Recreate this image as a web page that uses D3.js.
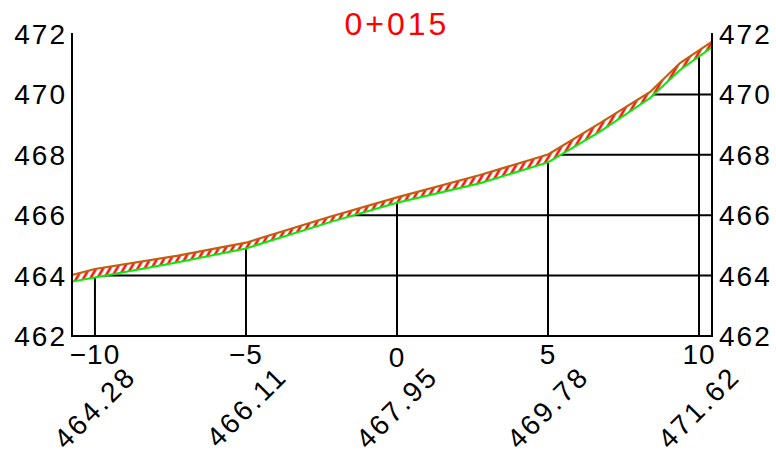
<!DOCTYPE html>
<html>
<head>
<meta charset="utf-8">
<script src="https://cdn.jsdelivr.net/npm/d3@7"></script>
<style>
  html, body { margin: 0; padding: 0; background: #fff; }
  svg { display: block; }
  text { font-family: "Liberation Sans", Arial, sans-serif; }
</style>
</head>
<body>
<svg id="chart" width="776" height="455"></svg>
<script>
// ---- data ----
const title = "0+015";
const offsets = [-10.76, -10, -7.25, -5, -2.22, 0, 2.75, 5, 6.72, 8.38, 9.37, 10.43];
const upperElev = [464.02, 464.22, 464.66, 465.09, 465.95, 466.59, 467.33, 468.01, 469.05, 470.08, 471.04, 471.75];
const lowerElev = [463.80, 463.94, 464.44, 464.90, 465.77, 466.41, 467.06, 467.75, 468.77, 469.88, 470.81, 471.56];
const xTicks = [-10, -5, 0, 5, 10];
const xTickLabels = ["\u221210", "\u22125", "0", "5", "10"];
const yTicks = [462, 464, 466, 468, 470, 472];
const gridLevels = [464, 466, 468, 470];
const gridStarts = [-10, -1.85, 5.05, 8.48];
const stationLabels = ["464.28", "466.11", "467.95", "469.78", "471.62"];

// ---- layout ----
const svg = d3.select("#chart");
const x = d3.scaleLinear().domain([-10.76, 10.43]).range([72, 712]);
const y = d3.scaleLinear().domain([462, 472]).range([336, 34]);
const interpUpper = d3.scaleLinear().domain(offsets).range(upperElev);

const defs = svg.append("defs");
const pat = defs.append("pattern")
  .attr("id", "hatch").attr("patternUnits", "userSpaceOnUse")
  .attr("width", 6).attr("height", 6)
  .attr("patternTransform", "rotate(30)");
pat.append("rect").attr("width", 6).attr("height", 6).attr("fill", "#fff");
pat.append("line").attr("x1", 1.5).attr("y1", 0).attr("x2", 1.5).attr("y2", 6)
  .attr("stroke", "#ff0000").attr("stroke-width", 2.4);

// gridlines
svg.append("g").selectAll("line").data(gridLevels).join("line")
  .attr("x1", (d, i) => x(gridStarts[i])).attr("x2", x.range()[1])
  .attr("y1", d => y(d)).attr("y2", d => y(d))
  .attr("stroke", "#000").attr("stroke-width", 2);

// verticals at ticks
svg.append("g").selectAll("line").data(xTicks).join("line")
  .attr("x1", d => x(d)).attr("x2", d => x(d))
  .attr("y1", y(462)).attr("y2", d => y(interpUpper(d)))
  .attr("stroke", "#000").attr("stroke-width", 2);

const pts = offsets.map((o, i) => ({ o, up: upperElev[i], lo: lowerElev[i] }));

svg.append("path").datum(pts)
  .attr("d", d3.area().x(d => x(d.o)).y0(d => y(d.lo)).y1(d => y(d.up)))
  .attr("fill", "url(#hatch)");

svg.append("path").datum(pts)
  .attr("d", d3.line().x(d => x(d.o)).y(d => y(d.lo)))
  .attr("fill", "none").attr("stroke", "#00ee00").attr("stroke-width", 2);
svg.append("path").datum(pts)
  .attr("d", d3.line().x(d => x(d.o)).y(d => y(d.up)))
  .attr("fill", "none").attr("stroke", "#c0600f").attr("stroke-width", 2.2);

// axes frame
const axisG = svg.append("g").attr("stroke", "#000").attr("stroke-width", 2);
axisG.append("line").attr("x1", x.range()[0]).attr("x2", x.range()[0]).attr("y1", y(472) - 1).attr("y2", y(462) + 1);
axisG.append("line").attr("x1", x.range()[1]).attr("x2", x.range()[1]).attr("y1", y(472) - 1).attr("y2", y(462) + 1);
axisG.append("line").attr("x1", x.range()[0] - 1).attr("x2", x.range()[1] + 1).attr("y1", y(462)).attr("y2", y(462));

const fs = 28;
// left y labels
svg.append("g").selectAll("text").data(yTicks).join("text")
  .attr("x", 67).attr("y", d => y(d)).attr("dy", "0.36em")
  .attr("text-anchor", "end").attr("font-size", fs).attr("letter-spacing", 2)
  .attr("fill", "#000").text(d => d);
// right y labels
svg.append("g").selectAll("text").data(yTicks).join("text")
  .attr("x", 719).attr("y", d => y(d)).attr("dy", "0.36em")
  .attr("text-anchor", "start").attr("font-size", fs).attr("letter-spacing", 2)
  .attr("fill", "#000").text(d => d);

// x tick labels
svg.append("g").selectAll("text").data(xTicks).join("text")
  .attr("x", d => x(d)).attr("y", (d, i) => xTickLabels[i] === "0" ? 367 : 364)
  .attr("text-anchor", "middle").attr("font-size", fs).attr("letter-spacing", 1)
  .attr("fill", "#000").text((d, i) => xTickLabels[i]);

// rotated station labels
svg.append("g").selectAll("text").data(xTicks).join("text")
  .attr("transform", d => `translate(${x(d) + 43},${378}) rotate(-45)`)
  .attr("text-anchor", "end").attr("font-size", fs).attr("letter-spacing", 2.8)
  .attr("fill", "#000").text((d, i) => stationLabels[i]);

// title
svg.append("text").attr("x", x(0)).attr("y", 35)
  .attr("text-anchor", "middle").attr("font-size", 32).attr("letter-spacing", 3)
  .attr("fill", "#ff0000").text(title);
</script>
</body>
</html>
